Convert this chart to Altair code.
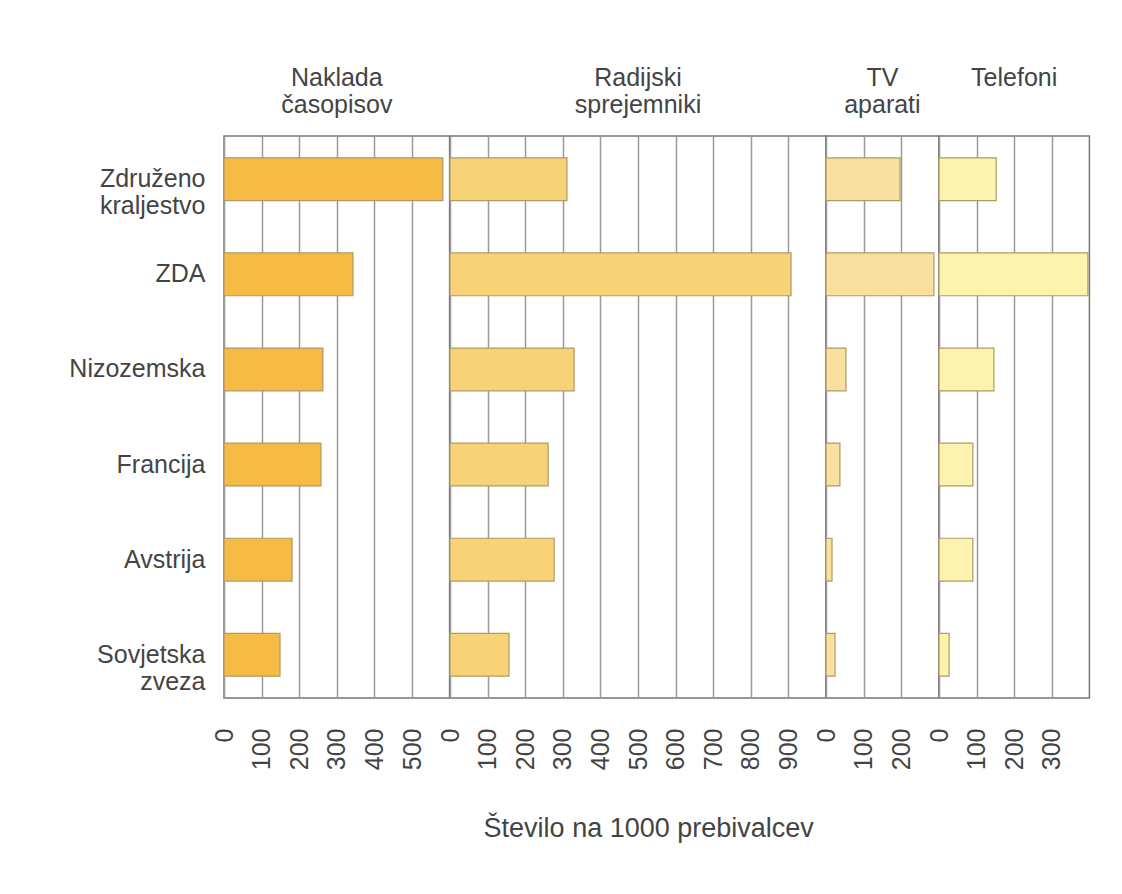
import altair as alt
import pandas as pd

countries = ["Združeno kraljestvo", "ZDA", "Nizozemska", "Francija", "Avstrija", "Sovjetska zveza"]
newspapers = [582, 343, 263, 258, 181, 149]
radios = [311, 907, 330, 261, 277, 157]
tv_sets = [197, 287, 53, 37, 16, 24]
phones = [152, 396, 146, 90, 90, 27]

panel_titles = [["Naklada", "časopisov"], ["Radijski", "sprejemniki"], ["TV", "aparati"], ["Telefoni", " "]]
panel_fields = ["newspapers", "radios", "tv", "phones"]
panel_max = [600, 1000, 300, 400]
panel_colors = ["#F6BB45", "#F8D276", "#F9DFA0", "#FBF3AE"]
x_title = "Število na 1000 prebivalcev"

df = pd.DataFrame({
    "country": countries,
    "newspapers": newspapers,
    "radios": radios,
    "tv": tv_sets,
    "phones": phones,
})

PX_PER_UNIT = 0.376
FONT = "Liberation Sans"
TEXT = "#444444"


def make_panel(i):
    field = panel_fields[i]
    dmax = panel_max[i]
    if i == 0:
        yaxis = alt.Axis(
            title=None,
            labelExpr="split(datum.label, ' ')",
            labelFontSize=25,
            labelFont=FONT,
            labelColor=TEXT,
            labelPadding=19,
            labelLineHeight=27,
            ticks=False,
            domain=False,
            minExtent=210,
            maxExtent=210,
        )
    else:
        yaxis = None
    return (
        alt.Chart(df)
        .mark_bar(color=panel_colors[i], stroke="#b09a66", strokeWidth=1.2)
        .encode(
            x=alt.X(
                f"{field}:Q",
                scale=alt.Scale(domain=[0, dmax], nice=False, zero=True),
                axis=alt.Axis(
                    title=None,
                    values=list(range(0, dmax, 100)),
                    labelAngle=-90,
                    labelAlign="right",
                    labelBaseline="middle",
                    labelFontSize=25,
                    labelFont=FONT,
                    labelColor=TEXT,
                    labelPadding=30,
                    labelFlush=False,
                    labelOverlap=False,
                    ticks=False,
                    domain=False,
                    grid=True,
                    gridColor="#9a9a9a",
                    gridWidth=1.5,
                ),
            ),
            y=alt.Y(
                "country:N",
                sort=countries,
                scale=alt.Scale(paddingInner=0.55, paddingOuter=0.23),
                axis=yaxis,
            ),
        )
        .properties(
            width=dmax * PX_PER_UNIT,
            height=562,
            title=alt.TitleParams(
                text=panel_titles[i],
                fontSize=25,
                font=FONT,
                fontWeight="normal",
                color=TEXT,
                lineHeight=27,
                anchor="middle",
                offset=18,
            ),
        )
    )


chart = (
    alt.hconcat(*[make_panel(i) for i in range(4)], spacing=0, bounds="flush")
    .properties(
        padding={"left": 5, "top": 57, "right": 5, "bottom": 5},
        title=alt.TitleParams(
            text=x_title,
            orient="bottom",
            anchor="middle",
            fontSize=27,
            font=FONT,
            fontWeight="normal",
            color=TEXT,
            offset=46,
            dx=97,
        ),
    )
    .configure_view(stroke="#777777", strokeWidth=1.5)
)

chart.save("out.html", embed_options={"renderer": "svg", "actions": False})
